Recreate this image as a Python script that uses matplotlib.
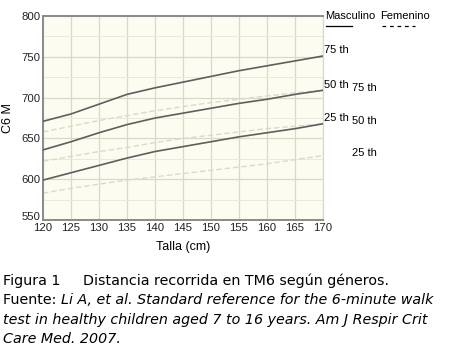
import numpy as np
import matplotlib
matplotlib.use("Agg")
import matplotlib.pyplot as plt
from matplotlib.ticker import MultipleLocator
from matplotlib.transforms import ScaledTranslation

# Talla (cm)
talla = [120, 125, 130, 135, 140, 145, 150, 155, 160, 165, 170]

# Masculino (C6 M)
masc_p25 = [599, 608, 617, 626, 634, 640, 646, 652, 657, 662, 668]
masc_p50 = [636, 646, 657, 667, 675, 681, 687, 693, 698, 704, 709]
masc_p75 = [671, 680, 692, 704, 712, 719, 726, 733, 739, 745, 751]

# Femenino (C6 M)
fem_p25 = [583, 589, 594, 599, 603, 607, 611, 615, 619, 624, 629]
fem_p50 = [622, 628, 634, 639, 645, 650, 654, 658, 662, 665, 668]
fem_p75 = [658, 665, 672, 678, 684, 689, 694, 698, 702, 706, 709]

x_ticks = [120, 125, 130, 135, 140, 145, 150, 155, 160, 165, 170]
y_ticks = [550, 600, 650, 700, 750, 800]

caption_1 = "Figura 1     Distancia recorrida en TM6 según géneros."
caption_2 = "Fuente: "
caption_2i = "Li A, et al. Standard reference for the 6-minute walk"
caption_3 = "test in healthy children aged 7 to 16 years. Am J Respir Crit"
caption_4 = "Care Med. 2007."

chart_font = "Liberation Sans"
male_color = "#5e5e5e"
female_color = "#dcd9cc"
grid_color = "#dcd8c8"

fig = plt.figure(figsize=(4.6, 3.62), dpi=100)
ax = fig.add_axes([0.0935, 0.392, 0.6087, 0.5638])
ax.set_facecolor("#fdfcf0")

for vals in (fem_p25, fem_p50, fem_p75):
    ax.plot(talla, vals, color=female_color, lw=1.0, ls=(0, (4, 2)), zorder=2)
for vals in (masc_p25, masc_p50, masc_p75):
    ax.plot(talla, vals, color=male_color, lw=1.2, zorder=3)

ax.set_xlim(120, 170)
ax.set_ylim(550, 800)
ax.set_xticks(x_ticks)
ax.set_yticks(y_ticks)
ax.yaxis.set_minor_locator(MultipleLocator(25))
ax.grid(which="major", color=grid_color, lw=0.9, zorder=0)
ax.grid(which="minor", axis="y", color="#ece9dc", lw=0.7, zorder=0)
ax.tick_params(which="both", length=0, pad=2, labelsize=8.2, colors="#222222")
for lab in ax.get_xticklabels() + ax.get_yticklabels():
    lab.set_family(chart_font)
# the 550 label sits a little above the axis line, as in the original
low = ax.get_yticklabels()[0]
low.set_transform(low.get_transform() + ScaledTranslation(0, 4 / 100, fig.dpi_scale_trans))

for side in ("left", "bottom", "top"):
    ax.spines[side].set_color("#8a8a8a")
    ax.spines[side].set_linewidth(1.4)
ax.spines["right"].set_color(grid_color)
ax.spines["right"].set_linewidth(0.9)

ax.set_xlabel("Talla (cm)", fontsize=9, family=chart_font, labelpad=6)
ax.set_ylabel("C6 M", fontsize=9, family=chart_font, labelpad=5)

# legend-like labels on the right
fs = 8
tr = ax.get_yaxis_transform()
ax.text(1.008, 800, "Masculino", transform=tr, fontsize=fs, family=chart_font,
        va="center", ha="left", clip_on=False)
ax.text(1.205, 800, "Femenino", transform=tr, fontsize=fs, family=chart_font,
        va="center", ha="left", clip_on=False)
ax.plot([1.012, 1.105], [788, 788], transform=tr, color="black", lw=0.9, clip_on=False)
ax.plot([1.212, 1.33], [788, 788], transform=tr, color="black", lw=0.9,
        ls=(0, (3, 3)), clip_on=False)

male_labels = [("75 th", masc_p75[-1]), ("50 th", masc_p50[-1]), ("25 th", masc_p25[-1])]
female_labels = [("75 th", fem_p75[-1]), ("50 th", fem_p50[-1]), ("25 th", fem_p25[-1])]
for txt, v in male_labels:
    ax.text(1.003, v + 7, txt, transform=tr, fontsize=fs, family=chart_font,
            va="center", ha="left", clip_on=False)
for txt, v in female_labels:
    ax.text(1.105, v + 3, txt, transform=tr, fontsize=fs, family=chart_font,
            va="center", ha="left", clip_on=False)

# caption
cap_font = "DejaVu Sans"
cs = 10.3
fig.text(0.007, 1 - 281 / 362, caption_1, fontsize=cs, family=cap_font, va="center")
t = fig.text(0.007, 1 - 300 / 362, caption_2, fontsize=cs, family=cap_font, va="center")
fig.canvas.draw()
bb = t.get_window_extent()
fig.text(bb.x1 / 460, 1 - 300 / 362, caption_2i, fontsize=cs, family=cap_font,
         style="italic", va="center")
fig.text(0.007, 1 - 320 / 362, caption_3, fontsize=cs, family=cap_font,
         style="italic", va="center")
fig.text(0.007, 1 - 339 / 362, caption_4, fontsize=cs, family=cap_font,
         style="italic", va="center")

fig.savefig("out.png", dpi=100)
